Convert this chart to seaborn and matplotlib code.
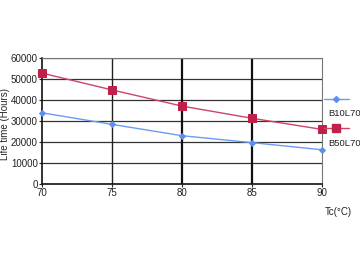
import matplotlib
matplotlib.use("Agg")
import matplotlib.pyplot as plt
import seaborn as sns
import pandas as pd
from matplotlib.lines import Line2D

tc = [70, 75, 80, 85, 90]
b10l70 = [33900, 28400, 23000, 19700, 16300]
b50l70 = [52800, 44800, 37100, 31300, 26000]
series_names = ["B10L70", "B50L70"]
yticks = [0, 10000, 20000, 30000, 40000, 50000, 60000]

df = pd.DataFrame({
    "Tc": tc * 2,
    "Life": b10l70 + b50l70,
    "Series": [series_names[0]] * 5 + [series_names[1]] * 5,
})

sns.set_style("white")
plt.rcParams["font.family"] = ["Liberation Sans", "DejaVu Sans"]

fig = plt.figure(figsize=(3.6, 2.62), dpi=100)
ax = fig.add_axes([42 / 360, 1 - 184 / 262, 280 / 360, 126 / 262])

blue = "#5b8ff0"
red = "#c0214a"
pal = {series_names[0]: blue, series_names[1]: red}

for name, mk, ms, lc in [(series_names[0], "D", 3, "#6a9cf2"), (series_names[1], "s", 6, "#cc4466")]:
    sub = df[df["Series"] == name]
    sns.lineplot(data=sub, x="Tc", y="Life", ax=ax, color=lc, linewidth=1.0,
                 marker=mk, markersize=ms, markerfacecolor=pal[name],
                 markeredgecolor=pal[name], legend=False, zorder=3, clip_on=False)

ax.set_xlim(70, 90)
ax.set_ylim(0, 60000)
ax.set_xticks(tc)
ax.set_yticks(yticks)
ax.tick_params(axis="both", labelsize=7, length=2, width=0.8, pad=1, colors="#222222",
               direction="out", bottom=True, left=True)

for y in yticks[1:]:
    ax.axhline(y, color="#333333", linewidth=0.9, zorder=1)
ax.axvline(75, color="#222222", linewidth=1.0, zorder=1)
ax.axvline(80, color="#111111", linewidth=1.6, zorder=1)
ax.axvline(85, color="#111111", linewidth=1.6, zorder=1)

for side in ["left", "bottom"]:
    ax.spines[side].set_color("#111111")
    ax.spines[side].set_linewidth(1.2)
for side in ["top", "right"]:
    ax.spines[side].set_color("#777777")
    ax.spines[side].set_linewidth(0.8)

ax.set_xlabel("")
ax.set_ylabel("Life time (Hours)", fontsize=7)
ax.yaxis.set_label_coords((10 - 42) / 280, (184 - 124) / 126)
fig.text(338 / 360, 1 - 212 / 262, "Tc(°C)", fontsize=7, ha="center", va="center", color="#222222")

# legend
h1 = Line2D([0], [0], color="#6a9cf2", marker="D", markersize=3, markerfacecolor=blue, markeredgecolor=blue, linewidth=1.0)
h2 = Line2D([0], [0], color="#cc4466", marker="s", markersize=6, markerfacecolor=red, markeredgecolor=red, linewidth=1.0)
fig.legend([h1], [""], loc="center", bbox_to_anchor=(336 / 360, 1 - 100 / 262), frameon=False,
           handlelength=1.8, handletextpad=0, borderpad=0)
fig.legend([h2], [""], loc="center", bbox_to_anchor=(336 / 360, 1 - 129 / 262), frameon=False,
           handlelength=1.8, handletextpad=0, borderpad=0)
fig.text(328 / 360, 1 - 113 / 262, series_names[0], fontsize=6.8, ha="left", va="center", color="#222222")
fig.text(328 / 360, 1 - 143 / 262, series_names[1], fontsize=6.8, ha="left", va="center", color="#222222")

fig.savefig("out.png", dpi=100)
